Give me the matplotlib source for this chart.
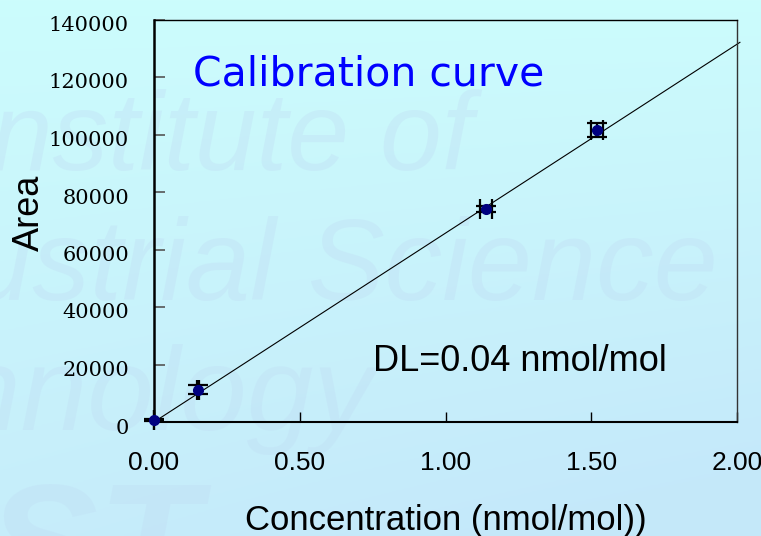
import numpy as np
import matplotlib
matplotlib.use("Agg")
import matplotlib.pyplot as plt
from matplotlib.transforms import ScaledTranslation

# data
conc = [0.0, 0.15, 1.14, 1.52]
area = [800, 11300, 74100, 101500]
conc_err = [0.0, 0.004, 0.02, 0.02]
area_err = [300, 1700, 1000, 2400]

fit_slope = 65700
fit_intercept = 0
fit_range = [0.0, 2.01]

x_ticks = [0.0, 0.5, 1.0, 1.5, 2.0]
x_ticklabels = ["0.00", "0.50", "1.00", "1.50", "2.00"]
y_ticks = [0, 20000, 40000, 60000, 80000, 100000, 120000, 140000]

W, H = 761, 536
fig = plt.figure(figsize=(W / 100, H / 100), dpi=100)

# slide background: pale cyan gradient with faint watermark
bg = fig.add_axes([0, 0, 1, 1], zorder=-10)
yy, xx = np.mgrid[0:1:200j, 0:1:200j]
top = np.array([0.80, 0.99, 0.99])
bot = np.array([0.77, 0.91, 0.98])
t = np.clip(0.75 * yy + 0.35 * xx * yy, 0, 1)[..., None]
bg.imshow(top * (1 - t) + bot * t, extent=[0, 1, 0, 1], aspect="auto", origin="upper")
bg.set_xlim(0, 1)
bg.set_ylim(0, 1)
bg.axis("off")

wm = dict(color="#c0dcf4", alpha=0.35, style="italic", family="Liberation Sans",
          ha="right", va="baseline", transform=bg.transAxes)
bg.text(473 / W, 1 - 170 / H, "Institute of", fontsize=80, **wm)
bg.text(718 / W, 1 - 300 / H, "Industrial Science", fontsize=83, **wm)
bg.text(373 / W, 1 - 430 / H, "Technology", fontsize=86, **wm)
bg.text(200 / W, 1 - 600 / H, "AIST", fontsize=120, weight="bold", **wm)

ax = fig.add_axes([154 / W, 1 - 422 / H, 583 / W, 402.5 / H])
ax.patch.set_alpha(0)

xs = np.array(fit_range)
ax.plot(xs, fit_slope * xs + fit_intercept, color="black", lw=0.8, clip_on=False, zorder=2)

ax.errorbar(conc, area, xerr=conc_err, yerr=area_err, fmt="none", ecolor="black",
            elinewidth=1.6, capsize=7.5, capthick=1.6, clip_on=False, zorder=3)
ax.plot(conc, area, "o", color="#000080", ms=7, clip_on=False, zorder=4)

ax.set_xlim(0, 2.0)
ax.set_ylim(0, 140000)
ax.set_xticks(x_ticks)
ax.set_xticklabels(x_ticklabels, fontsize=19, family="Liberation Sans")
ax.set_yticks(y_ticks)
ax.set_yticklabels([str(v) for v in y_ticks], fontsize=15, family="DejaVu Serif")
ax.tick_params(axis="x", direction="in", length=7, width=1, pad=21, color="black")
ax.tick_params(axis="y", direction="in", length=8, width=1.2, pad=18, color="#555555")
for lab in ax.get_yticklabels():
    lab.set_transform(lab.get_transform() + ScaledTranslation(0, -4 / 100, fig.dpi_scale_trans))

ax.spines["left"].set_linewidth(1.8)
ax.spines["bottom"].set_linewidth(1.5)
ax.spines["top"].set_linewidth(1.0)
ax.spines["right"].set_linewidth(1.0)
ax.spines["right"].set_color("#333333")

fig.text(193 / W, 1 - 85 / H, "Calibration curve", fontsize=29.5, color="#0000ff",
         family="DejaVu Sans", va="baseline")
fig.text(373 / W, 1 - 371 / H, "DL=0.04 nmol/mol", fontsize=26, color="black",
         family="Liberation Sans", va="baseline")
fig.text(446 / W, 1 - 530 / H, "Concentration (nmol/mol))", fontsize=25, color="black",
         family="Liberation Sans", ha="center", va="baseline")
fig.text(29 / W, 1 - 213 / H, "Area", fontsize=26, rotation=90, color="black",
         family="Liberation Sans", ha="center", va="center")

fig.savefig("out.png", dpi=100)
